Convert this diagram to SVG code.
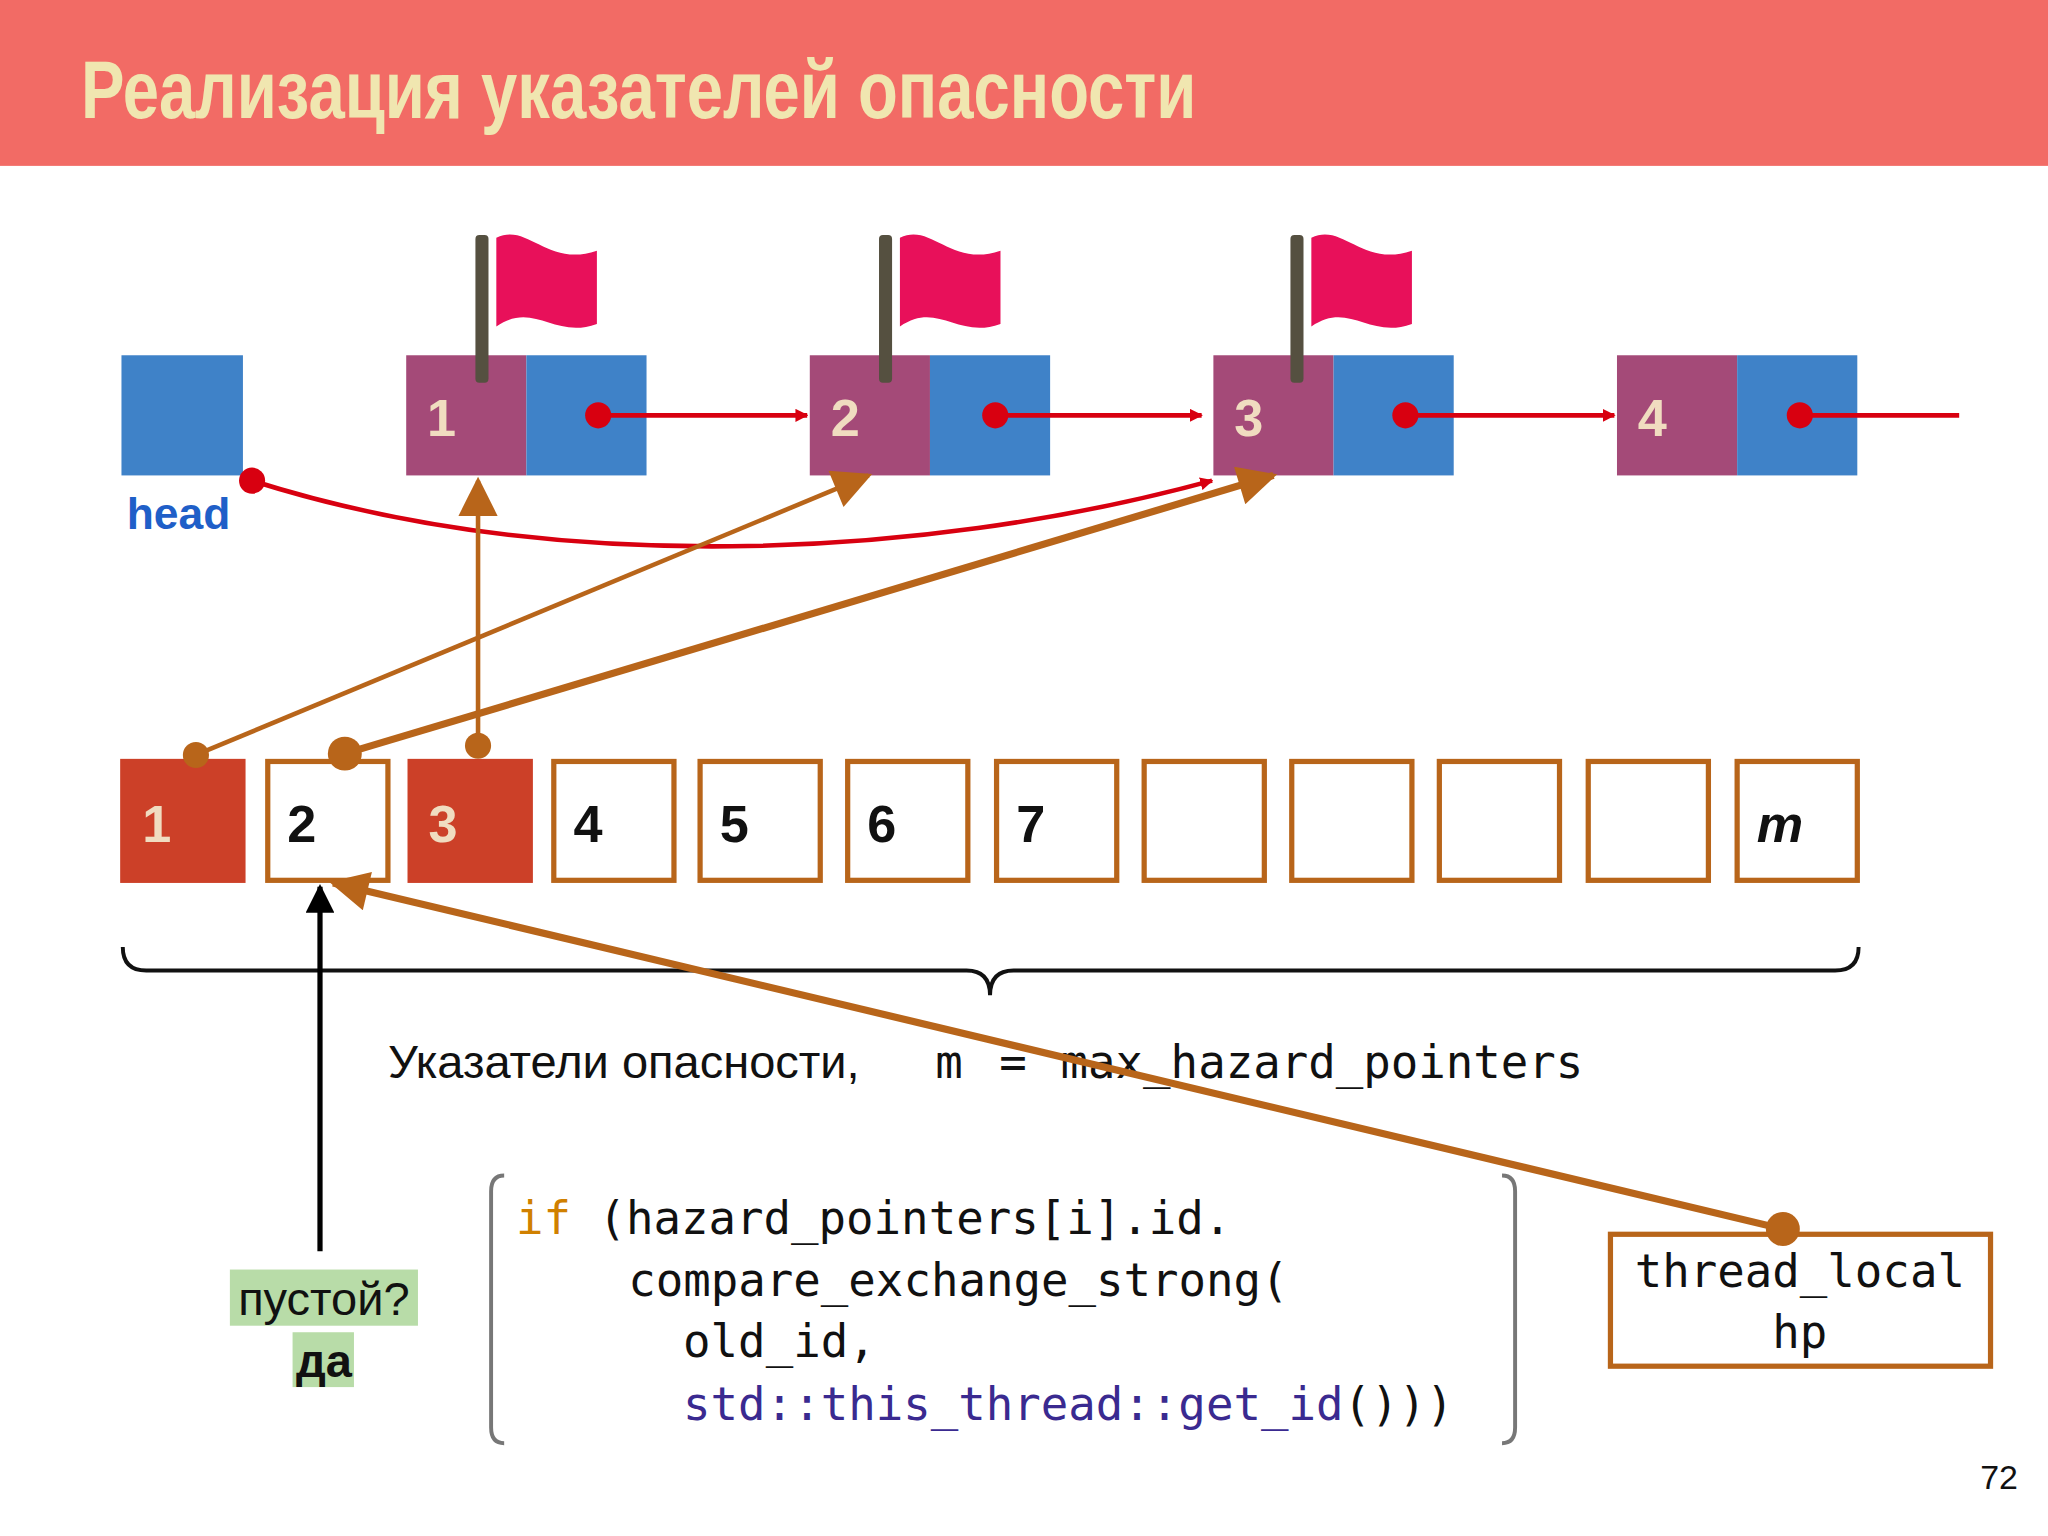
<svg xmlns="http://www.w3.org/2000/svg" width="2048" height="1536" viewBox="0 0 2048 1536">
<style>
.pu{fill:#a44a78}.bl{fill:#3f82c8}
.nn{font-family:"Liberation Sans",sans-serif;font-size:40px;font-weight:bold;fill:#f0dcc0}
.an{font-family:"Liberation Sans",sans-serif;font-size:40px;font-weight:bold;fill:#111}
.box{fill:#fff;stroke:#b8651a;stroke-width:4}
.fill{fill:#cc4028}
.mono{font-family:"DejaVu Sans Mono",monospace;font-size:35px;fill:#111}
.red{stroke:#d80010;stroke-width:3.5;fill:none}
.br{stroke:#b8651a;fill:none}
</style>
<defs>
<marker id="ar" markerWidth="10" markerHeight="10" refX="9" refY="5" orient="auto" markerUnits="userSpaceOnUse" viewBox="0 0 10 10"><path d="M0,0L10,5L0,10z" fill="#d80010"/></marker>
<marker id="ab" viewBox="0 0 10 10" refX="9" refY="5" markerWidth="34" markerHeight="30" orient="auto" markerUnits="userSpaceOnUse"><path d="M0,0L10,5L0,10z" fill="#b8651a"/></marker>
<marker id="ak" viewBox="0 0 10 10" refX="9" refY="5" markerWidth="30" markerHeight="22" orient="auto" markerUnits="userSpaceOnUse"><path d="M0,0L10,5L0,10z" fill="#000"/></marker>
<g id="flag"><rect x="-5" y="0" width="10" height="113" fill="#555040" rx="3"/><path d="M11,2 C35,-10 50,25 88,12 L88,68 C55,80 40,50 11,70 Z" fill="#e8105a"/></g>
</defs>
<g transform="scale(1.30612)">
<rect x="0" y="0" width="1568" height="127" fill="#f26b65"/>
<text x="62" y="90" font-family="'Liberation Sans',sans-serif" font-weight="bold" font-size="62" fill="#f0e6b0" textLength="854" lengthAdjust="spacingAndGlyphs">Реализация указателей опасности</text>
<g id="head"><rect x="93" y="272" width="93" height="92" class="bl"/><text x="97" y="405" font-family="'Liberation Sans',sans-serif" font-weight="bold" font-size="34" fill="#1f5fc8">head</text></g>
<g id="n1"><rect x="311" y="272" width="92" height="92" class="pu"/><rect x="403" y="272" width="92" height="92" class="bl"/><text x="327" y="334" class="nn">1</text><use href="#flag" x="369" y="180"/></g>
<g id="n2"><rect x="620" y="272" width="92" height="92" class="pu"/><rect x="712" y="272" width="92" height="92" class="bl"/><text x="636" y="334" class="nn">2</text><use href="#flag" x="678" y="180"/></g>
<g id="n3"><rect x="929" y="272" width="92" height="92" class="pu"/><rect x="1021" y="272" width="92" height="92" class="bl"/><text x="945" y="334" class="nn">3</text><use href="#flag" x="993" y="180"/></g>
<g id="n4"><rect x="1238" y="272" width="92" height="92" class="pu"/><rect x="1330" y="272" width="92" height="92" class="bl"/><text x="1254" y="334" class="nn">4</text></g>
<g id="array">
<rect x="92" y="581" width="96" height="95" class="fill"/><text x="109" y="645" class="nn">1</text>
<rect x="205" y="583" width="92" height="91" class="box"/><text x="220" y="645" class="an">2</text>
<rect x="312" y="581" width="96" height="95" class="fill"/><text x="328" y="645" class="nn">3</text>
<rect x="424" y="583" width="92" height="91" class="box"/><text x="439" y="645" class="an">4</text>
<rect x="536" y="583" width="92" height="91" class="box"/><text x="551" y="645" class="an">5</text>
<rect x="649" y="583" width="92" height="91" class="box"/><text x="664" y="645" class="an">6</text>
<rect x="763" y="583" width="92" height="91" class="box"/><text x="778" y="645" class="an">7</text>
<rect x="876" y="583" width="92" height="91" class="box"/>
<rect x="989" y="583" width="92" height="91" class="box"/>
<rect x="1102" y="583" width="92" height="91" class="box"/>
<rect x="1216" y="583" width="92" height="91" class="box"/>
<rect x="1330" y="583" width="92" height="91" class="box"/><text x="1345" y="645" class="an" font-style="italic">m</text>
</g>
<path d="M94,725 Q94,743 112,743 L740,743 Q758,743 758,762 Q758,743 776,743 L1405,743 Q1423,743 1423,725" fill="none" stroke="#111" stroke-width="3"/>
<text x="297" y="825" font-family="'Liberation Sans',sans-serif" font-size="36" fill="#111">Указатели опасности,</text>
<text x="716" y="825" class="mono" fill="#555">m <tspan x="765">=</tspan><tspan x="812" fill="#111">max_hazard_pointers</tspan></text>
<g id="code">
<path d="M386,900 Q376,900 376,912 L376,1093 Q376,1105 386,1105 M1150,900 Q1160,900 1160,912 L1160,1093 Q1160,1105 1150,1105" fill="none" stroke="#777" stroke-width="3"/>
<text x="395" y="945" class="mono"><tspan fill="#d08000">if</tspan> (hazard_pointers[i].id.</text>
<text x="481" y="992" class="mono">compare_exchange_strong(</text>
<text x="523" y="1039" class="mono">old_id,</text>
<text x="523" y="1087" class="mono"><tspan fill="#3a2a90">std::this_thread::get_id</tspan>()))</text>
</g>
<g id="tl"><rect x="1233" y="945" width="291" height="101" class="box"/><text x="1378" y="985" class="mono" text-anchor="middle">thread_local</text><text x="1378" y="1032" class="mono" text-anchor="middle">hp</text></g>
<g id="empty"><rect x="176" y="972" width="144" height="43" fill="#b8dca8"/><rect x="224" y="1020" width="47" height="42" fill="#b8dca8"/>
<text x="248" y="1007" font-family="'Liberation Sans',sans-serif" font-size="36" text-anchor="middle" fill="#111">пустой?</text>
<text x="248" y="1054" font-family="'Liberation Sans',sans-serif" font-size="36" font-weight="bold" text-anchor="middle" fill="#111">да</text></g>
<text x="1545" y="1140" font-family="'Liberation Sans',sans-serif" font-size="26" text-anchor="end" fill="#111">72</text>
<g id="connectors">
<path d="M458,318 L618,318" class="red" marker-end="url(#ar)" style="stroke-width:3.5"/>
<path d="M762,318 L920,318" class="red" marker-end="url(#ar)"/>
<path d="M1076,318 L1236,318" class="red" marker-end="url(#ar)"/>
<path d="M1378,318 L1500,318" class="red"/>
<path d="M193,368 C420,440 700,430 928,368" class="red" marker-end="url(#ar)"/>
<g fill="#d80010"><circle cx="458" cy="318" r="10"/><circle cx="762" cy="318" r="10"/><circle cx="1076" cy="318" r="10"/><circle cx="1378" cy="318" r="10"/><circle cx="193" cy="368" r="10"/></g>
<path d="M150,578 L665,364" class="br" stroke-width="3.5" marker-end="url(#ab)"/>
<path d="M366,571 L366,368" class="br" stroke-width="3.5" marker-end="url(#ab)"/>
<path d="M264,577 L975,364" class="br" stroke-width="5.5" marker-end="url(#ab)"/>
<path d="M1365,941 L255,676" class="br" stroke-width="5.5" marker-end="url(#ab)"/>
<g fill="#b8651a"><circle cx="150" cy="578" r="10"/><circle cx="366" cy="571" r="10"/><circle cx="264" cy="577" r="13"/><circle cx="1365" cy="941" r="13"/></g>
<path d="M245,958 L245,679" stroke="#000" stroke-width="4" marker-end="url(#ak)"/>
</g>
</g>
</svg>
